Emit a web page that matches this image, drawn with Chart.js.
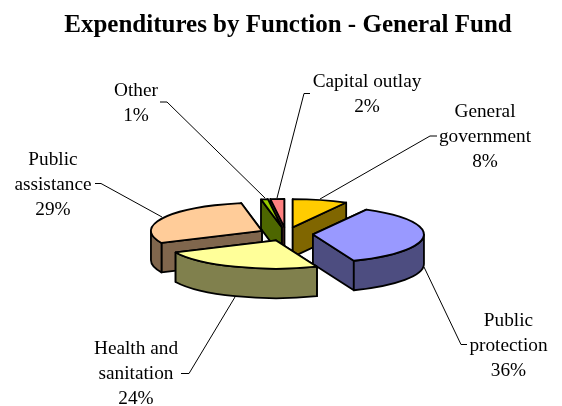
<!DOCTYPE html>
<html>
<head>
<meta charset="utf-8">
<style>html,body{margin:0;padding:0;background:#fff}canvas{display:block}</style>
<script src="https://cdn.jsdelivr.net/npm/chart.js@4"></script>
</head>
<body>
<canvas id="c" width="562" height="406"></canvas>
<script>
const chartTitle = 'Expenditures by Function - General Fund';
const categories = ['General government', 'Public protection', 'Health and sanitation', 'Public assistance', 'Other', 'Capital outlay'];
const values = [8, 36, 24, 29, 1, 2];
const topColors = ['#FFCC00', '#9999FF', '#FFFF99', '#FFCC99', '#99CC00', '#FF8080'];
const sideColors = ['#806600', '#4D4D80', '#80804D', '#80664D', '#4D6600', '#804040'];
const categoryLines = [['General', 'government'], ['Public', 'protection'], ['Health and', 'sanitation'], ['Public', 'assistance'], ['Other'], ['Capital outlay']];

// Chart furniture, not data
const PIE = {cx: 286, cy: 234, k: 0.255, depth: 29.5, line: 1.8};
const paintOrder = [0, 5, 4, 3, 1, 2];
const labelPos = [[485, 112], [508.5, 321], [136, 349], [53, 160], [136, 91], [367, 82]];
const LINE_H = 25;
const leaders = [
  [[437, 136], [430, 136], [320, 199]],
  [[467, 344.5], [461, 344.5], [424, 267]],
  [[181, 373.5], [189, 373.5], [235, 297]],
  [[95, 183.5], [101, 183.5], [162, 217]],
  [[160, 102], [167, 102], [265, 198]],
  [[310, 93.5], [304, 93.5], [277, 198]]
];

const pie3d = {
  id: 'pie3d',
  beforeDatasetsDraw(chart) {
    const ctx = chart.ctx;
    const arcs = chart.getDatasetMeta(0).data;
    ctx.save();
    ctx.lineJoin = 'round';
    ctx.lineWidth = PIE.line;
    ctx.strokeStyle = '#000';
    for (const i of paintOrder) {
      const p = arcs[i].getProps(['startAngle', 'endAngle', 'outerRadius'], true);
      const off = arcs[i].options.offset;
      const s = p.startAngle, e = p.endAngle, R = p.outerRadius, Ry = R * PIE.k, D = PIE.depth;
      const mid = (s + e) / 2;
      const cx = PIE.cx + Math.cos(mid) * off;
      const cy = PIE.cy + Math.sin(mid) * off * PIE.k;
      const pt = a => [cx + R * Math.cos(a), cy + Ry * Math.sin(a)];
      const paint = c => { ctx.fillStyle = c; ctx.fill(); ctx.stroke(); };
      // radial cut faces, back one first
      const radials = [s, e].map(a => pt(a)).sort((u, v) => u[1] - v[1]);
      for (const q of radials) {
        ctx.beginPath();
        ctx.moveTo(cx, cy); ctx.lineTo(q[0], q[1]);
        ctx.lineTo(q[0], q[1] + D); ctx.lineTo(cx, cy + D);
        ctx.closePath();
        paint(sideColors[i]);
      }
      // outer wall on the near half
      const a1 = Math.max(s, 0), a2 = Math.min(e, Math.PI);
      if (a1 < a2) {
        ctx.beginPath();
        ctx.ellipse(cx, cy, R, Ry, 0, a1, a2);
        ctx.ellipse(cx, cy + D, R, Ry, 0, a2, a1, true);
        ctx.closePath();
        paint(sideColors[i]);
      }
      // top face
      ctx.beginPath();
      ctx.moveTo(cx, cy);
      ctx.ellipse(cx, cy, R, Ry, 0, s, e);
      ctx.closePath();
      paint(arcs[i].options.backgroundColor);
    }
    // leaders
    ctx.lineWidth = 1;
    ctx.lineJoin = 'miter';
    for (const l of leaders) {
      ctx.beginPath();
      l.forEach((q, n) => n ? ctx.lineTo(q[0], q[1]) : ctx.moveTo(q[0], q[1]));
      ctx.stroke();
    }
    // labels
    ctx.fillStyle = '#000';
    ctx.font = '19.3px "Liberation Serif"';
    ctx.textAlign = 'center';
    ctx.textBaseline = 'middle';
    categories.forEach((_, i) => {
      const lines = categoryLines[i].concat(values[i] + '%');
      lines.forEach((t, n) => ctx.fillText(t, labelPos[i][0], labelPos[i][1] + n * LINE_H));
    });
    ctx.restore();
    return false;
  }
};

new Chart(document.getElementById('c'), {
  type: 'pie',
  data: {
    labels: categories,
    datasets: [{data: values, backgroundColor: topColors, borderWidth: 0, offset: 27}]
  },
  options: {
    responsive: false,
    animation: false,
    radius: 111,
    layout: {padding: {left: 14}},
    plugins: {
      legend: {display: false},
      tooltip: {enabled: false},
      title: {
        display: true,
        text: chartTitle,
        color: '#000',
        font: {family: '"Liberation Serif"', size: 25, weight: 'bold'},
        padding: {top: 11, bottom: 10}
      }
    }
  },
  plugins: [pie3d]
});
</script>
</body>
</html>
